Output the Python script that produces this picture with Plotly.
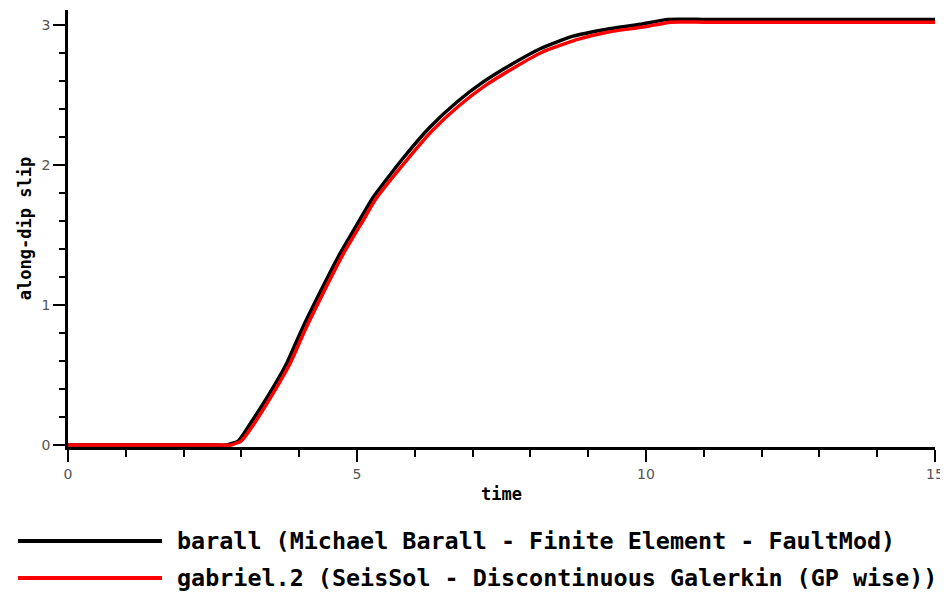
import plotly.graph_objects as go

# barall (black)
barall_t = [0, 1, 2, 2.5, 2.75, 2.95, 3.15, 3.49, 3.78, 4.04, 4.36, 4.71, 5.05, 5.28, 5.80,
            6.26, 6.73, 7.19, 7.70, 8.17, 8.74, 9.32, 9.90, 10.38, 11, 12, 13, 14, 15]
barall_v = [0, 0, 0, 0, 0, 0.03, 0.15, 0.37, 0.58, 0.82, 1.09, 1.37, 1.61, 1.77, 2.05,
            2.27, 2.45, 2.595, 2.725, 2.83, 2.92, 2.97, 3.005, 3.04, 3.04, 3.04, 3.04,
            3.04, 3.04]

# gabriel.2 (red)
gabriel_t = [0, 1, 2, 2.5, 2.82, 3.0, 3.2, 3.55, 3.84, 4.1, 4.42, 4.77, 5.1, 5.33, 5.85,
             6.3, 6.77, 7.23, 7.74, 8.2, 8.8, 9.35, 9.95, 10.42, 11, 12, 13, 14, 15]
gabriel_v = [0, 0, 0, 0, 0, 0.03, 0.14, 0.37, 0.58, 0.82, 1.09, 1.37, 1.60, 1.76, 2.03,
             2.245, 2.425, 2.57, 2.70, 2.805, 2.895, 2.95, 2.985, 3.02, 3.02, 3.02, 3.02,
             3.02, 3.02]

series_names = ["barall (Michael Barall - Finite Element - FaultMod)",
                "gabriel.2 (SeisSol - Discontinuous Galerkin (GP wise))"]
series_colors = ["#000000", "#ff0000"]

x_ticks = [0, 5, 10, 15]
y_ticks = [0, 1, 2, 3]

fig = go.Figure()
for t, v, name, col in [(barall_t, barall_v, series_names[0], series_colors[0]),
                        (gabriel_t, gabriel_v, series_names[1], series_colors[1])]:
    fig.add_trace(go.Scatter(x=t, y=v, mode="lines", name=name,
                             line=dict(color=col, width=3.5, shape="spline", smoothing=0.5)))

tickfont = dict(family="DejaVu Sans", size=14, color="#555555")
titlefont = dict(family="DejaVu Sans Mono", size=17, color="#000000", weight="bold")

fig.update_xaxes(range=[0, 15], tickvals=x_ticks, ticktext=[str(v) for v in x_ticks],
                 ticks="outside", ticklen=12, tickwidth=2, tickcolor="black",
                 minor=dict(dtick=1, ticks="outside", ticklen=7, tickwidth=2, tickcolor="black"),
                 showline=True, linecolor="black", linewidth=2.5, showgrid=False, zeroline=False,
                 tickfont=tickfont, layer="below traces", automargin=False,
                 title=dict(text="time", font=titlefont, standoff=8))
fig.update_yaxes(range=[-0.0143, 3.107], tickvals=y_ticks, ticktext=[str(v) for v in y_ticks],
                 ticks="outside", ticklen=12, tickwidth=2, tickcolor="black",
                 minor=dict(dtick=0.2, ticks="outside", ticklen=6, tickwidth=2, tickcolor="black"),
                 showline=True, linecolor="black", linewidth=2.5, showgrid=False, zeroline=False,
                 tickfont=tickfont, layer="below traces", automargin=False,
                 title=dict(text="along-dip slip", font=titlefont, standoff=6))

# figure is offset by the page's 8px body margin
W, H = 940, 589
left, right = 60, 927
top, bottom = 2, 439
legend_y = [533, 570]
shapes = []
annotations = []
for i in range(2):
    frac = (bottom - legend_y[i]) / (bottom - top)
    shapes.append(dict(type="line", xref="paper", yref="paper",
                       x0=(10 - left) / (right - left), x1=(154 - left) / (right - left),
                       y0=frac, y1=frac,
                       line=dict(color=series_colors[i], width=4)))
    annotations.append(dict(text=series_names[i], xref="paper", yref="paper",
                            x=(167 - left) / (right - left), y=frac,
                            xanchor="left", yanchor="middle", showarrow=False,
                            font=dict(family="DejaVu Sans Mono", size=23.4, color="black",
                                      weight="bold")))

fig.update_layout(width=W, height=H,
                  margin=dict(l=left, r=W - right, t=top, b=H - bottom, autoexpand=False),
                  plot_bgcolor="white", paper_bgcolor="white", showlegend=False,
                  shapes=shapes, annotations=annotations)

fig.write_html("out.html")
